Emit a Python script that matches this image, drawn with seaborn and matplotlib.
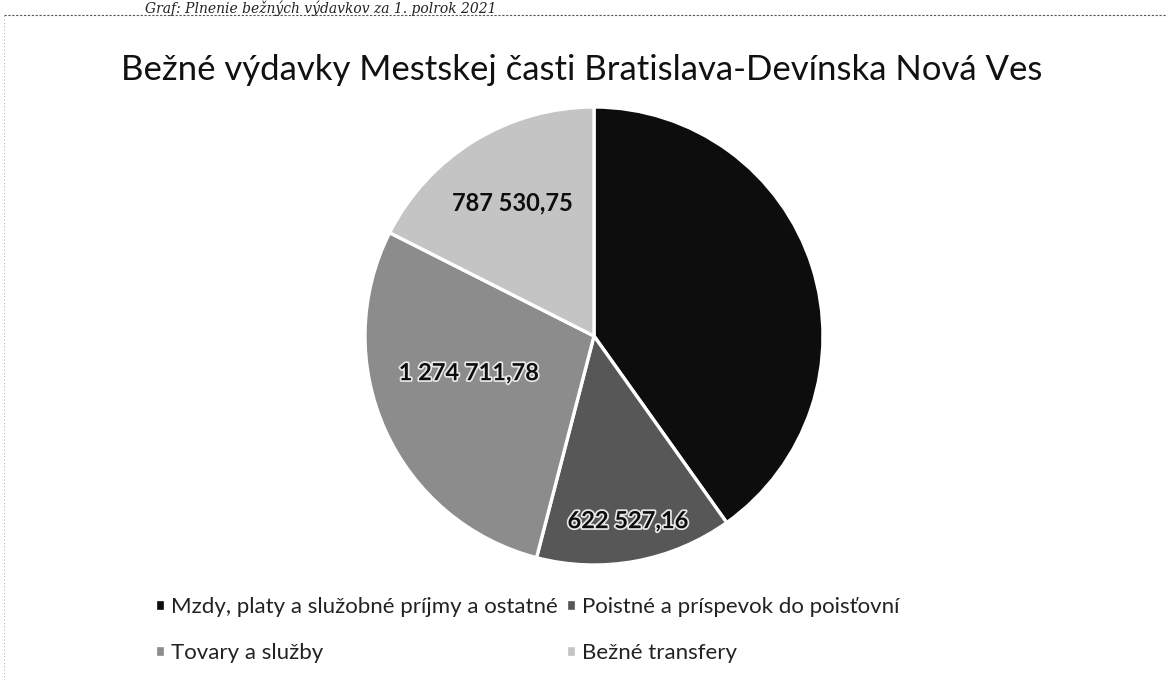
import matplotlib
matplotlib.use("Agg")
import matplotlib.pyplot as plt
import matplotlib.patheffects as pe
import seaborn as sns
import numpy as np

# Bežné výdavky za 1. polrok 2021 (EUR)
categories = [
    "Mzdy, platy a služobné príjmy a ostatné",
    "Poistné a príspevok do poisťovní",
    "Tovary a služby",
    "Bežné transfery",
]
values = [1802000.00, 622527.16, 1274711.78, 787530.75]
title = "Bežné výdavky Mestskej časti Bratislava-Devínska Nová Ves"
caption = "Graf: Plnenie bežných výdavkov za 1. polrok 2021"

colors = ["#0d0d0d", "#575757", "#8c8c8c", "#c4c4c4"]
# (radius, angle shift in deg) for each data label, halo on/off
label_pos = [(0.6, 0), (0.82, 0), (0.57, -8), (0.68, 0)]
label_halo = [False, True, True, False]


def sk_number(v):
    s = f"{v:,.2f}"
    return s.replace(",", " ").replace(".", ",")


sns.set_theme(style="white")
plt.rcParams["font.family"] = ["Lato", "DejaVu Sans"]

W, H = 1166, 680
fig = plt.figure(figsize=(W / 100, H / 100), dpi=100)

# pie axes placed in pixel terms: centre (594, 336), radius 229
cx, cy, r = 594, 336, 229
ax = fig.add_axes([(cx - r) / W, (H - cy - r) / H, 2 * r / W, 2 * r / H])
wedges, _ = ax.pie(
    values,
    colors=colors,
    startangle=90,
    counterclock=False,
    wedgeprops=dict(edgecolor="white", linewidth=2.4),
)
ax.set_xlim(-1, 1)
ax.set_ylim(-1, 1)
ax.set_aspect("equal")
ax.axis("off")

for w, v, (lr, shift), halo in zip(wedges, values, label_pos, label_halo):
    mid = np.deg2rad((w.theta1 + w.theta2) / 2 + shift)
    effects = [pe.withStroke(linewidth=2.5, foreground="#e8e8e8")] if halo else []
    ax.text(
        lr * np.cos(mid), lr * np.sin(mid), sk_number(v),
        ha="center", va="center", fontsize=17, fontweight="bold", color="#0d0d0d",
        path_effects=effects,
    )

fig.text(582 / W, 1 - 70 / H, title, ha="center", va="center", fontsize=25, color="#111111")

# caption from the scanned page above the chart
fig.text(145 / W, 1 - 1 / H, caption, ha="left", va="top", fontsize=10,
         family="DejaVu Serif", style="italic", color="#222222")
fig.add_artist(plt.Line2D([4 / W, 1], [1 - 15 / H, 1 - 15 / H], transform=fig.transFigure,
                          color="#555555", linewidth=0.8, linestyle=(0, (2, 1.5))))
fig.add_artist(plt.Line2D([4 / W, 4 / W], [0, 1 - 15 / H], transform=fig.transFigure,
                          color="#888888", linewidth=0.6, linestyle=(0, (1, 3))))

# legend fills by row in the reference: reorder for matplotlib's column filling
order = [0, 2, 1, 3]
leg = fig.legend(
    [wedges[i] for i in order], [categories[i] for i in order],
    loc="upper left", bbox_to_anchor=(135 / W, 1 - 577 / H),
    ncol=2, frameon=False, fontsize=16,
    handlelength=0.45, handleheight=0.45, handletextpad=0.25,
    columnspacing=0.4, labelspacing=1.15,
)
for t in leg.get_texts():
    t.set_color("#222222")

fig.savefig("out.png", dpi=100)
